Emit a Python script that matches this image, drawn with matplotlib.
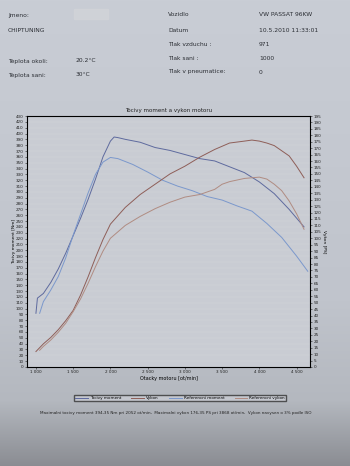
import numpy as np
import matplotlib
matplotlib.use('Agg')
import matplotlib.pyplot as plt

# torque [Nm]
rpm_moment = [1000, 1020, 1100, 1200, 1300, 1400, 1500, 1600, 1700, 1800, 1900, 2000, 2050, 2100,
              2200, 2400, 2600, 2800, 3000, 3200, 3400, 3600, 3800, 4000, 4200, 4400, 4600]
moment = [92, 118, 126, 145, 168, 195, 225, 255, 287, 322, 360, 387, 394, 393,
          390, 385, 376, 371, 364, 357, 353, 343, 333, 317, 297, 270, 240]

# reference torque [Nm]
rpm_ref_moment = [1050, 1100, 1200, 1300, 1400, 1500, 1600, 1700, 1800, 1900, 2000, 2100, 2300,
                  2500, 2700, 2900, 3100, 3300, 3500, 3700, 3900, 4100, 4300, 4500, 4650]
ref_moment = [92, 112, 132, 155, 187, 226, 262, 298, 330, 351, 359, 357, 347,
              334, 320, 310, 302, 292, 286, 276, 267, 246, 222, 190, 164]

# power [PS]
rpm_vykon = [1000, 1100, 1200, 1300, 1400, 1500, 1600, 1700, 1800, 1900, 2000, 2200, 2400, 2600,
             2800, 3000, 3200, 3400, 3600, 3800, 3900, 4000, 4100, 4200, 4300, 4400, 4500, 4600]
vykon = [12, 18, 23, 29, 36, 44, 56, 70, 85, 99, 111, 124, 134, 142,
         150, 156, 163, 169, 174, 175.5, 176.3, 175.5, 174, 172, 168, 164, 156, 147]

# reference power [PS]
rpm_ref_vykon = [1050, 1100, 1200, 1300, 1400, 1500, 1600, 1700, 1800, 1900, 2000, 2200, 2400, 2600,
                 2800, 3000, 3200, 3400, 3500, 3600, 3800, 4000, 4100, 4200, 4300, 4400, 4500, 4600]
ref_vykon = [13, 16, 21, 27, 34, 43, 53, 65, 78, 90, 100, 110, 117, 123,
             128, 132, 134, 138, 142, 144, 146.5, 147.5, 146, 142, 137, 129, 119, 107]

header_left = [('Jmeno:', 8, 15), ('CHIPTUNING', 8, 31), ('Teplota okoli:', 8, 61),
               ('20.2°C', 76, 60), ('Teplota sani:', 8, 76), ('30°C', 76, 75)]
header_right = [('Vozidlo', 168, 15), ('VW PASSAT 96KW', 259, 15),
                ('Datum', 168, 30), ('10.5.2010 11:33:01', 259, 30),
                ('Tlak vzduchu :', 168, 44), ('971', 259, 44),
                ('Tlak sani :', 168, 58), ('1000', 259, 58),
                ('Tlak v pneumatice:', 168, 72), ('0', 259, 72)]

W, H = 350, 466
fig = plt.figure(figsize=(W / 100, H / 100), dpi=100)

# paper background, darker towards the bottom of the photo
bg = fig.add_axes([0, 0, 1, 1])
rows = np.arange(H)
shade = np.stack([np.interp(rows, [0, 300, 400, 466], c) for c in
                  ([201, 192, 180, 138], [205, 196, 184, 140], [213, 204, 191, 146])], axis=1) / 255
bg.imshow(np.repeat(shade[:, None, :], 2, axis=1), aspect='auto', extent=[0, W, H, 0])
bg.set_xlim(0, W)
bg.set_ylim(H, 0)
bg.axis('off')
bg.add_patch(plt.Rectangle((74, 9), 34, 10, color='#d2d4d8', alpha=0.8))

for txt, x, y in header_left + header_right:
    bg.text(x, y, txt, fontsize=4.3, color='#2a2d33', va='center', ha='left')

ax = fig.add_axes([27 / W, 1 - 367 / H, 283 / W, 251 / H])
ax.set_facecolor('#c9ccd3')
ax.set_xlim(880, 4680)
ax.set_ylim(0, 430)
ax.set_yticks(range(0, 431, 10))
ax.set_xticks(range(1000, 4501, 500))
ax.set_xticklabels(['{} {:03d}'.format(v // 1000, v % 1000) for v in range(1000, 4501, 500)])
ax.grid(axis='y', color='#d4d6db', linewidth=0.35)
ax.tick_params(labelsize=3, length=1.5, width=0.4, pad=1, colors='#222222')
for s in ax.spines.values():
    s.set_linewidth(0.7)
    s.set_color('#222222')

ax2 = ax.twinx()
ax2.set_ylim(0, 195)
ax2.set_yticks(range(0, 196, 5))
ax2.tick_params(labelsize=3, length=1.5, width=0.4, pad=1, colors='#222222')

l1, = ax.plot(rpm_moment, moment, color='#5e6a9e', lw=0.7, label='Tocivy moment')
l3, = ax.plot(rpm_ref_moment, ref_moment, color='#7b98cc', lw=0.7, label='Referencni moment')
l2, = ax2.plot(rpm_vykon, vykon, color='#8e5e58', lw=0.7, label='Vykon')
l4, = ax2.plot(rpm_ref_vykon, ref_vykon, color='#b08c82', lw=0.7, label='Referencni vykon')

ax.set_title('Tocivy moment a vykon motoru', fontsize=4, pad=3, color='#222222')
ax.set_xlabel('Otacky motoru [ot/min]', fontsize=3.5, labelpad=1)
ax.text(-0.045, 0.5, 'Tocivy moment [Nm]', transform=ax.transAxes, rotation=90,
        fontsize=3.2, ha='center', va='center')
ax2.text(1.05, 0.5, 'Vykon [PS]', transform=ax2.transAxes, rotation=-90,
         fontsize=3.2, ha='center', va='center')

fig.legend([l1, l2, l3, l4], ['Tocivy moment', 'Vykon', 'Referencni moment', 'Referencni vykon'],
           ncol=4, fontsize=3, loc='center', bbox_to_anchor=(180 / W, 1 - 398 / H),
           frameon=True, fancybox=False, edgecolor='#333333', facecolor='#c9ccd3',
           handlelength=3, columnspacing=2.5, borderpad=0.3, handletextpad=0.5)

bg.text(176, 413, 'Maximalni tocivy moment 394,35 Nm pri 2052 ot/min,  Maximalni vykon 176,35 PS pri '
        '3868 ot/min,  Vykon navysen o 3% podle ISO', fontsize=3.0, ha='center', va='center',
        color='#222222')

fig.savefig('out.png', dpi=100)
